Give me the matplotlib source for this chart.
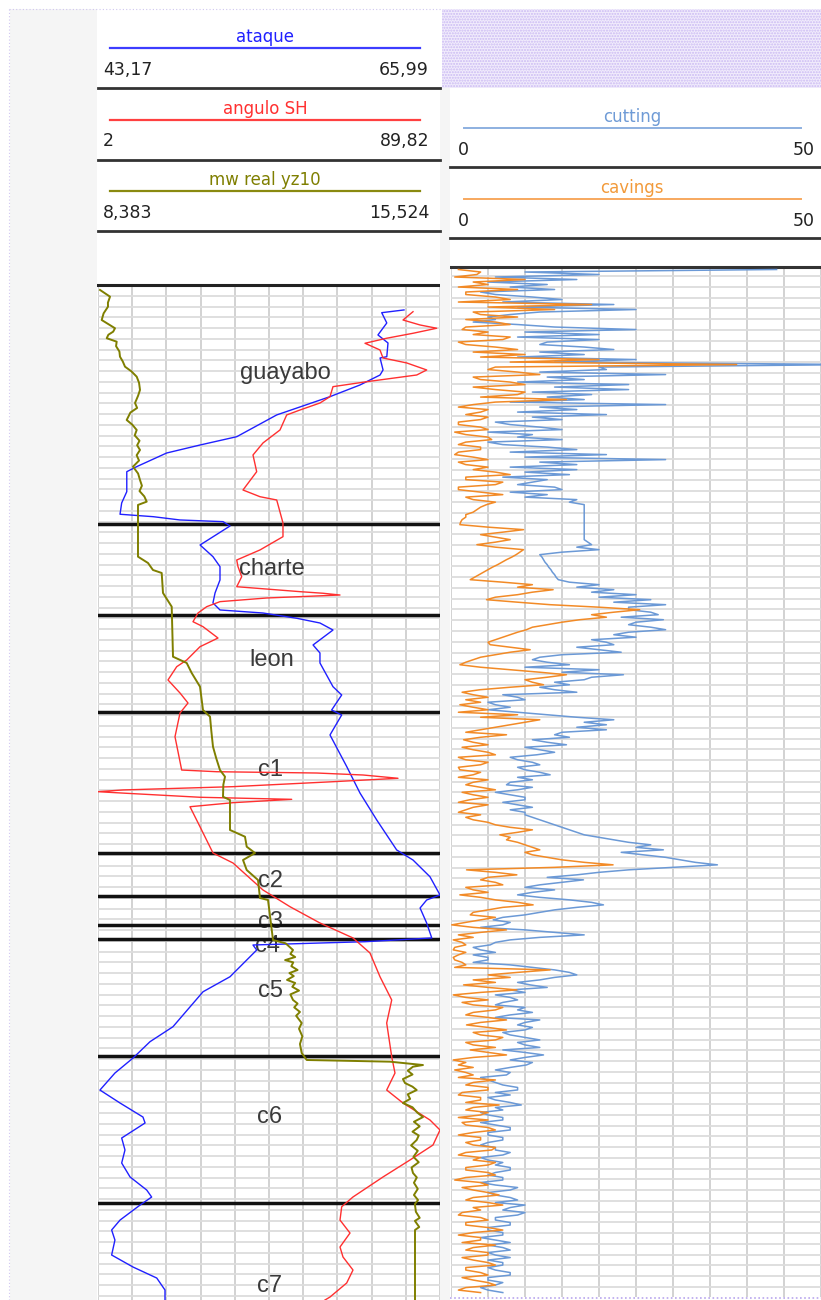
import numpy as np
import matplotlib
matplotlib.use("Agg")
import matplotlib.pyplot as plt
from matplotlib.lines import Line2D
from matplotlib.patches import Rectangle
import matplotlib.transforms as mtransforms

# ---------------------------------------------------------------- data
depth_ticks = [0, 933, 1866, 2799, 3732, 4665, 5598, 6531, 7464, 8397,
               9330, 10263, 11196, 12129, 13062]

formation_names = ["guayabo", "charte", "leon", "c1", "c2", "c3", "c4",
                   "c5", "c6", "c7"]
formation_tops = [3082, 4281, 5551, 7392, 7960, 8340, 8527, 10058, 11981]
formation_label_depth = [1184, 3750, 4944, 6386, 7846, 8379, 8690, 9288,
                         10941, 13148]

ataque_range = (43.17, 65.99)
angulo_range = (2, 89.82)
mw_range = (8.383, 15.524)
cut_range = (0, 50)

ataque_depth = [275, 311, 446, 603, 708, 888, 905, 1062, 1128, 1259,
                1412, 1652, 1937, 2046, 2151, 2330, 2396, 2658, 2806, 2954,
                2986, 3029, 3051, 3108, 3357, 3510, 3641, 3816, 3986, 4117,
                4209, 4249, 4318, 4380, 4472, 4668, 4773, 4904, 5215, 5324,
                5521, 5586, 5848, 6264, 6609, 6963, 7356, 7488, 7707, 7946,
                8012, 8117, 8314, 8510, 8559, 8576, 8602, 8668, 9018, 9215,
                9674, 9870, 10084, 10281, 10504, 10674, 10858, 10936, 11133, 11290,
                11461, 11644, 11815, 11907, 12013, 12209, 12339, 12471, 12667, 12825,
                12969, 13126, 13257]
ataque = [63.59, 62.10, 62.44, 61.85, 62.52, 62.44, 61.99, 62.19, 61.99, 60.65,
          58.65, 55.09, 52.43, 49.98, 47.75, 45.75, 45.09, 45.09, 44.75, 44.64,
          46.86, 48.64, 51.51, 51.98, 49.98, 50.84, 51.31, 51.31, 50.98, 50.84,
          51.31, 54.18, 56.43, 57.98, 58.85, 57.52, 57.98, 57.98, 58.85, 59.43,
          58.76, 59.43, 58.65, 59.77, 60.65, 61.77, 63.10, 64.19, 65.32, 65.99,
          65.10, 64.66, 65.10, 65.44, 60.99, 57.98, 53.51, 53.76, 51.98, 50.18,
          48.17, 46.64, 45.51, 44.30, 43.30, 44.64, 46.17, 46.31, 44.75, 44.97,
          44.75, 45.31, 46.42, 46.75, 45.97, 44.64, 44.08, 44.30, 44.08, 45.51,
          47.09, 47.64, 47.64]

angulo_depth = [298, 407, 472, 515, 581, 646, 712, 800, 905, 970,
                1062, 1128, 1216, 1281, 1412, 1495, 1587, 1652, 1849, 2019,
                2177, 2396, 2636, 2724, 2767, 3068, 3248, 3422, 3554, 3641,
                3773, 3904, 3969, 3990, 4013, 4052, 4100, 4166, 4249, 4363,
                4428, 4577, 4691, 4865, 4953, 5127, 5298, 5429, 5560, 5871,
                6308, 6330, 6347, 6373, 6416, 6461, 6526, 6569, 6592, 6613,
                6665, 6692, 6736, 6789, 7051, 7396, 7527, 7881, 8100, 8314,
                8510, 8707, 9018, 9323, 9625, 10067, 10281, 10504, 10674, 10897,
                11028, 11225, 11421, 11644, 11906, 12034, 12209, 12379, 12562, 12693,
                12864, 13034, 13218, 13257]
angulo = [82.89, 80.32, 84.68, 88.97, 82.89, 76.13, 70.56, 74.41, 75.18, 81.27,
          86.40, 83.84, 71.00, 62.34, 61.57, 59.01, 53.87, 50.45, 48.73, 44.37,
          41.80, 42.75, 39.23, 43.60, 47.89, 49.50, 49.50, 43.60, 37.62, 37.95,
          38.90, 37.62, 53.87, 59.78, 64.14, 45.32, 33.33, 29.91, 27.68, 26.39,
          28.96, 32.81, 28.19, 24.78, 22.21, 19.97, 23.06, 25.11, 23.06, 21.77,
          23.49, 32.48, 58.16, 70.05, 79.03, 62.34, 36.67, 8.42, 2.00, 9.37,
          28.19, 51.74, 36.67, 25.62, 28.19, 31.53, 36.67, 44.37, 51.30, 59.01,
          67.48, 71.84, 74.41, 77.42, 76.13, 77.42, 78.26, 76.13, 80.32, 87.25,
          89.82, 88.02, 82.12, 75.18, 67.48, 64.58, 64.14, 66.71, 64.14, 64.91,
          67.48, 65.86, 61.57, 60.29]

mw_depth = [13, 101, 180, 232, 320, 407, 470, 515, 560, 600,
            646, 691, 750, 820, 888, 950, 1019, 1080, 1150, 1230,
            1324, 1400, 1495, 1560, 1620, 1718, 1780, 1849, 1920, 1990,
            2050, 2111, 2180, 2250, 2330, 2420, 2505, 2580, 2650, 2720,
            2789, 2832, 3510, 3593, 3685, 3724, 3986, 4166, 4822, 4904,
            5035, 5215, 5521, 5608, 5800, 6002, 6150, 6308, 6395, 6500,
            6658, 6701, 7094, 7182, 7313, 7396, 7488, 7619, 7750, 7986,
            8012, 8406, 8537, 8580, 8668, 8720, 8760, 8800, 8830, 8880,
            8930, 8970, 9010, 9060, 9100, 9150, 9200, 9250, 9323, 9370,
            9420, 9480, 9530, 9625, 9700, 9800, 9900, 10018, 10110, 10132,
            10176, 10198, 10250, 10300, 10360, 10412, 10460, 10504, 10560, 10620,
            10674, 10730, 10800, 10858, 10920, 10980, 11050, 11100, 11159, 11230,
            11300, 11380, 11450, 11520, 11592, 11650, 11720, 11800, 11880, 11946,
            12000, 12100, 12180, 12220, 12300, 12339, 13257]
mw = [8.425, 8.634, 8.59, 8.592, 8.50, 8.460, 8.62, 8.738, 8.70, 8.60,
      8.565, 8.773, 8.76, 8.83, 8.842, 8.90, 8.947, 9.08, 9.191, 9.24,
      9.260, 9.22, 9.156, 9.20, 9.06, 8.982, 9.10, 9.191, 9.15, 9.25,
      9.20, 9.260, 9.19, 9.24, 9.114, 9.22, 9.260, 9.30, 9.25, 9.35,
      9.400, 9.218, 9.218, 9.427, 9.531, 9.713, 9.740, 9.922, 9.949, 10.235,
      10.339, 10.513, 10.575, 10.722, 10.75, 10.784, 10.85, 10.930, 11.035, 11.00,
      10.993, 11.139, 11.139, 11.452, 11.488, 11.661, 11.411, 11.488, 11.724, 11.765,
      11.933, 12.010, 12.037, 12.30, 12.455, 12.40, 12.50, 12.29, 12.46, 12.42,
      12.55, 12.38, 12.47, 12.33, 12.50, 12.44, 12.58, 12.40, 12.455, 12.55,
      12.48, 12.60, 12.52, 12.636, 12.58, 12.65, 12.60, 12.636, 12.741, 14.480,
      15.169, 14.960, 14.85, 14.95, 14.75, 14.793, 14.95, 15.037, 14.85, 14.90,
      14.751, 14.95, 15.05, 15.169, 14.98, 15.10, 14.95, 15.08, 15.037, 14.92,
      15.06, 14.97, 15.08, 14.93, 14.960, 15.04, 14.98, 15.06, 14.98, 15.065,
      15.00, 15.02, 15.10, 15.00, 15.09, 15.002, 15.002]

# cuttings / cavings, one reading per sample step (ft)
sample_step = 32.8
cutting = [44, 10, 20, 6, 17, 5, 13, 8, 14, 4, 6, 11, 15, 7, 22, 9, 25, 12, 8, 5,
           6, 3, 9, 14, 25, 10, 20, 9, 20, 13, 12, 18, 22, 12, 18, 9, 25, 14, 55, 20,
           21, 12, 29, 13, 18, 9, 24, 14, 24, 11, 19, 13, 18, 8, 29, 12, 17, 9, 21, 11,
           15, 6, 8, 12, 15, 5, 11, 9, 15, 5, 7, 13, 17, 8, 21, 10, 29, 12, 17, 8,
           17, 10, 16, 7, 13, 11, 9, 14, 15, 8, 13, 10, 17, 16, 18, 18, 18, 18, 18, 18,
           18, 18, 18, 18, 18, 18, 18, 18, 18, 18.5, 19, 17, 20, 15, 12, 12.3, 12.5, 12.7, 13, 13.2,
           13.5, 13.7, 14, 14.2, 14.5, 16, 20, 17, 22, 19, 25, 20, 27, 22, 29, 24, 24, 27, 28, 23,
           28.7, 25, 24, 27, 29, 24, 22, 25, 19, 21, 22, 17, 20, 23, 15, 12, 11, 13, 16, 10,
           20, 15, 23.3, 19, 18, 14, 16, 12, 14, 17, 7, 9, 10, 5, 6, 8, 5, 9, 13, 17,
           22, 18, 21, 17, 21, 15, 14, 16, 11, 13, 15.6, 10, 12, 14, 11.6, 8, 9, 11, 12, 9,
           10, 12, 13.4, 9, 11, 8, 7.5, 11, 9, 6, 8, 10, 10, 7, 9, 11, 8, 10, 10, 11,
           12, 13, 14, 15, 16, 17, 18, 20, 22, 24, 27, 25, 28.7, 23, 26, 29, 31, 33, 36, 30,
           24, 20, 17, 13, 17.9, 15, 12, 10, 14, 11, 9, 12, 16, 19, 20.6, 17, 14, 12, 10, 7,
           5.7, 8, 7, 4, 10, 14, 18, 12, 8, 6, 5.3, 3, 4, 6, 3, 5, 5, 3, 8, 11,
           14, 16, 17, 14, 12, 9, 10.7, 13, 8, 10, 6, 8, 9, 7, 6, 10, 9, 11, 8, 6,
           12, 10, 9, 11, 10, 7, 8, 10, 12, 9, 10, 12, 7, 10, 12.5, 10, 8, 11, 10.2, 8,
           6, 8, 7.5, 4, 5, 6, 7, 9, 9, 6, 8, 5, 6, 8, 9.5, 6, 7, 4, 5, 7,
           7, 4, 6, 8, 8, 5, 5, 7, 7, 5, 4, 6, 6, 8, 7, 4, 5, 7, 6, 8,
           8, 6, 5, 7, 7, 4, 6, 9, 8, 5, 6, 8, 9, 6, 10, 8, 7, 10, 9, 6,
           6, 8, 8, 5, 5, 7, 7, 4, 6, 8, 5, 7, 8, 5, 6, 8, 5, 7, 7, 5,
           6, 8, 8, 5, 5, 7, 6, 4, 5, 7]
cavings = [1, 4, 3.5, 0.5, 10, 3, 5, 1, 9, 2, 2, 6, 8, 1, 19, 5, 14, 3, 4, 9,
           2, 6, 8, 2, 1.5, 5, 3, 8, 7, 1, 2, 6, 9, 3, 10, 4, 20, 8, 38.6, 6,
           5, 9, 12, 3, 4, 8, 10, 3, 6, 10, 9, 4, 15.6, 6, 3, 1, 5, 4, 2, 5,
           4, 1, 1, 4, 5, 0.5, 2, 5, 5.5, 2, 1, 4, 4, 1, 0.5, 3, 5, 1, 2, 5,
           3, 6, 8, 2, 2, 7, 6, 1, 1, 4, 7, 2, 3, 6, 4.8, 4, 3.5, 3, 2, 2,
           1.5, 1.3, 1.2, 5, 9.8, 7, 4, 6, 8, 6, 3.5, 6, 9.8, 9.3, 8.8, 8.2, 7.5, 6.9, 6.3, 5.6,
           5, 4.4, 3.8, 3.2, 2.6, 7, 11, 9, 13.8, 11, 9, 6, 4.8, 9, 13.4, 20, 25.5, 22, 19, 21,
           17.4, 15, 13, 11, 10.2, 9, 8, 7, 6, 5, 5.3, 8, 10.7, 8, 6, 4, 3, 2, 1.2, 4,
           8, 12, 15.6, 13, 10, 11, 12.5, 8, 3.9, 1.5, 3, 5, 2, 4, 1.2, 3, 5, 1, 9, 4,
           12, 10, 8, 6, 4, 2, 7.5, 4, 1.7, 3, 5, 1.5, 3, 5, 6, 1, 2, 5, 4, 1,
           1.2, 4, 3, 1, 5, 3, 2, 4, 6, 1.5, 3, 5, 2.5, 1, 5, 3, 2, 1, 4, 2,
           3, 5, 6, 8, 11, 9, 6.6, 8, 7.5, 9, 10, 11, 12, 10, 11, 13, 15, 18, 21.9, 14,
           2.1, 6, 8.9, 5, 4, 6, 7, 2, 3, 5, 1.2, 4, 6, 9, 11.1, 7, 5, 3, 2.6, 6,
           4, 2, 0.1, 3, 7.5, 4, 1, 3, 0.3, 1.5, 2, 0.5, 0.3, 2, 1, 0.3, 0.5, 1.5, 2, 0.5,
           13.4, 9, 5, 8, 3, 6, 1.7, 5, 8.9, 4, 0.3, 2, 5, 1.5, 3, 7, 6, 3, 2, 5,
           7.5, 4, 2.1, 5, 7.5, 3, 4, 7, 6, 2, 3, 6, 2.6, 5, 7.5, 3, 0.3, 2, 1, 3,
           0.5, 2, 3, 1, 6, 3, 2, 5, 5, 1.5, 1, 4, 4, 2, 6.5, 3, 2, 5, 4, 1,
           5, 1.5, 2, 5, 6, 3, 1, 4, 4, 2, 3, 6, 5.5, 2, 1, 4, 3, 6, 5, 2,
           2, 5, 6, 2, 0.5, 4, 5, 1.5, 3, 5, 6.5, 3, 2, 5, 7, 3, 4, 1.5, 1, 4,
           5, 2, 2, 5, 7, 3, 1, 4, 4, 1.5, 6, 3, 2, 5, 5, 1.5, 3, 5, 6, 2,
           2, 4, 5, 1.5, 3, 5, 6, 2, 1, 4]

# ---------------------------------------------------------------- style
W, H = 821, 1300
BLUE, RED, OLIVE = "#2020ff", "#ff3030", "#7f7f00"
CUT_C, CAV_C = "#6b99d6", "#f28a26"
TXT = "#222222"
GRID_Y, GRID_X = "#dcdcdc", "#cfcfcf"

fig = plt.figure(figsize=(W / 100, H / 100), dpi=100, facecolor="white")


def fx(x):
    return x / W


def fy(y):
    return 1 - y / H


def fig_line(x0, x1, y0, y1, **kw):
    fig.add_artist(Line2D([fx(x0), fx(x1)], [fy(y0), fy(y1)],
                          transform=fig.transFigure, **kw))


def fig_rect(x0, y0, x1, y1, **kw):
    fig.add_artist(Rectangle((fx(x0), fy(y1)), (x1 - x0) / W, (y1 - y0) / H,
                             transform=fig.transFigure, **kw))


def fig_text(x, y, s, **kw):
    fig.text(fx(x), fy(y), s, **kw)


# page background pieces
fig_rect(10, 9, 97, 1300, facecolor="#f5f5f5", lw=0)
fig_rect(440, 88, 450, 1300, facecolor="#f5f5f5", lw=0)
fig_rect(442, 9, 821, 88, facecolor="#f1ecfc", edgecolor="#cbbaf3",
         hatch="......", lw=0)
fig_line(8.5, 8.5, 9, 1300, color="#cfc6f0", lw=0.8, ls=(0, (1, 2)))
fig_line(8.5, 442, 9, 9, color="#cfc6f0", lw=0.8, ls=(0, (1, 2)))
fig_line(450, 821, 1297.5, 1297.5, color="#b9a6ee", lw=1.2, ls=(0, (1, 1.5)))

# ---------------------------------------------------------------- headers
HDR = dict(family="DejaVu Sans", fontsize=12, va="center")
NUM = dict(family="DejaVu Sans", fontsize=12.5, va="center", color=TXT)

left_headers = [("ataque", BLUE, "#3d3dff", ("43,17", "65,99")),
                ("angulo SH", RED, "#ff4040", ("2", "89,82")),
                ("mw real yz10", OLIVE, "#8a8a10", ("8,383", "15,524"))]
for i, (name, tc, lc, (lo, hi)) in enumerate(left_headers):
    y0 = 37 + i * 71.5
    fig_text(265, y0, name, ha="center", color=tc, **HDR)
    fig_line(110, 420, y0 + 11, y0 + 11, color=lc, lw=1.6)
    fig_text(103, y0 + 33, lo, ha="left", **NUM)
    fig_text(429, y0 + 33, hi, ha="right", **NUM)
    fig_line(98, 440, y0 + 51, y0 + 51, color="#333333", lw=2.0)

right_headers = [("cutting", "#6f9bd6", "#8db0e0"),
                 ("cavings", "#f29a3a", "#f7a85e")]
for i, (name, tc, lc) in enumerate(right_headers):
    y0 = 117 + i * 71
    fig_text(632, y0, name, ha="center", color=tc, **HDR)
    fig_line(464, 801, y0 + 11, y0 + 11, color=lc, lw=1.4)
    fig_text(458, y0 + 33, "0", ha="left", **NUM)
    fig_text(815, y0 + 33, "50", ha="right", **NUM)
    fig_line(450, 821, y0 + 50, y0 + 50, color="#333333", lw=2.0)

# ---------------------------------------------------------------- left track
TOP_FT, BOTTOM_FT = -52, 13257
axB = fig.add_axes([fx(98), fy(1300), (440 - 98) / W, (1300 - 285) / H])
axB.set_xlim(0, 1)
axB.set_ylim(BOTTOM_FT, TOP_FT)
axB.set_xticks(np.linspace(0, 1, 11))
axB.set_yticks(np.arange(TOP_FT, BOTTOM_FT, 141))
axB.grid(axis="y", color=GRID_Y, lw=1.3, zorder=0)
axB.grid(axis="x", color=GRID_X, lw=1.3, zorder=0)
axB.tick_params(length=0, labelbottom=False, labelleft=False)
for s in ("left", "right", "bottom"):
    axB.spines[s].set_visible(False)
axB.spines["top"].set_color("#222222")
axB.spines["top"].set_linewidth(2.2)

for d in formation_tops:
    axB.axhline(d, color="#111111", lw=2.5, zorder=3)

label_xfrac = [0.547, 0.509, 0.509, 0.503, 0.503, 0.503, 0.497, 0.503, 0.503, 0.503]
tr_lbl = mtransforms.blended_transform_factory(axB.transAxes, axB.transData)
for name, d, xf in zip(formation_names, formation_label_depth, label_xfrac):
    axB.text(xf, d, name, transform=tr_lbl, ha="center", va="baseline",
             family="Liberation Sans", fontsize=17, color="#3a3a3a", zorder=2)

# depth labels in the grey column
tr_depth = mtransforms.blended_transform_factory(fig.transFigure, axB.transData)
tr_depth = tr_depth + mtransforms.ScaledTranslation(0, -1.0 / 100, fig.dpi_scale_trans)
for d in depth_ticks:
    axB.text(fx(20), d, str(d), transform=tr_depth, ha="left", va="top",
             family="DejaVu Sans", fontsize=12.5, color="#2a2a2a", clip_on=False)

curves = [(ataque, ataque_depth, ataque_range, BLUE, 1.0),
          (angulo, angulo_depth, angulo_range, RED, 1.0),
          (mw, mw_depth, mw_range, OLIVE, 1.4)]
for vals, deps, rng, col, lw in curves:
    ax = axB.twiny()
    ax.set_xlim(*rng)
    ax.set_axis_off()
    ax.plot(vals, deps, color=col, lw=lw, zorder=4)

# ---------------------------------------------------------------- right track
RIGHT_BOTTOM_FT = 13506
axC = fig.add_axes([fx(451), fy(1297), (821 - 451) / W, (1297 - 267) / H])
axC.set_xlim(*cut_range)
axC.set_ylim(RIGHT_BOTTOM_FT, 0)
axC.set_xticks(np.arange(0, 51, 5))
axC.set_yticks(np.arange(120, RIGHT_BOTTOM_FT, 141))
axC.grid(axis="y", color=GRID_Y, lw=1.3, zorder=0)
axC.grid(axis="x", color=GRID_X, lw=1.3, zorder=0)
axC.tick_params(length=0, labelbottom=False, labelleft=False)
for s in ("left", "right", "bottom"):
    axC.spines[s].set_visible(False)
axC.spines["top"].set_color("#333333")
axC.spines["top"].set_linewidth(2.2)

cut_depth = sample_step * np.arange(1, len(cutting) + 1)
cav_depth = sample_step * np.arange(1, len(cavings) + 1)
axC.plot(cutting, cut_depth, color=CUT_C, lw=1.1, zorder=3)
axC.plot(cavings, cav_depth, color=CAV_C, lw=1.1, zorder=4)

fig.savefig("out.png", dpi=100, facecolor="white")
